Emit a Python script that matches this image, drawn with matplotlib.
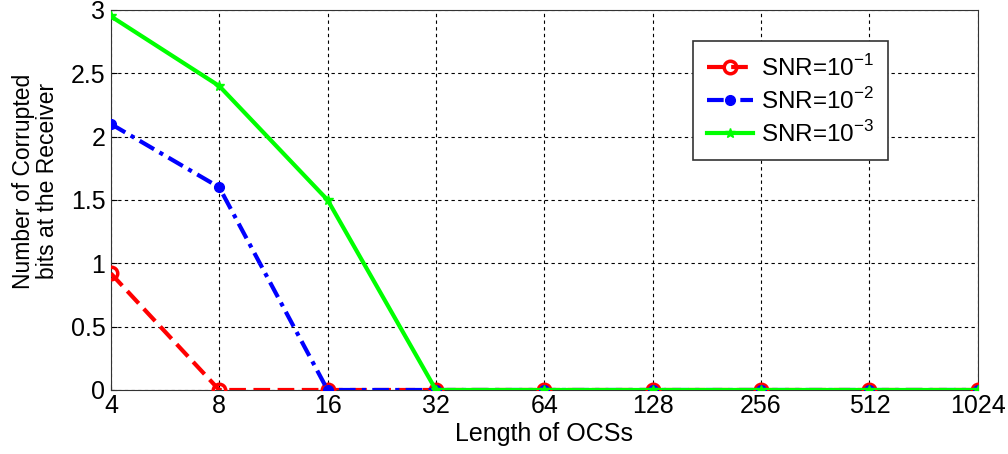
import numpy as np
import matplotlib.pyplot as plt
from matplotlib.ticker import FormatStrFormatter

plt.rcParams['font.family'] = ['Liberation Sans', 'DejaVu Sans']

# OCS lengths and corrupted bit counts per SNR
ocs_len = ['4', '8', '16', '32', '64', '128', '256', '512', '1024']
snr_1 = [0.92, 0, 0, 0, 0, 0, 0, 0, 0]
snr_2 = [2.1, 1.6, 0, 0, 0, 0, 0, 0, 0]
snr_3 = [2.95, 2.4, 1.5, 0, 0, 0, 0, 0, 0]
yticks = [0, 0.5, 1, 1.5, 2, 2.5, 3]

x = np.arange(len(ocs_len))

fig = plt.figure(figsize=(10.08, 4.54), dpi=100)
ax = fig.add_axes([0.110, 0.141, 0.860, 0.837])

ax.plot(x, snr_1, color='red', linestyle=(0, (4, 1.8)), linewidth=3,
        marker='o', markersize=9, markerfacecolor='none', markeredgewidth=2.5,
        label='SNR=10$^{\\mathregular{-1}}$', zorder=3)
ax.plot(x, snr_2, color='blue', linestyle=(0, (4, 1.5, 1, 1.5)), linewidth=3,
        marker='o', markersize=7, label='SNR=10$^{\\mathregular{-2}}$', zorder=4)
ax.plot(x, snr_3, color='#00ff00', linestyle='-', linewidth=3,
        marker='*', markersize=7, label='SNR=10$^{\\mathregular{-3}}$', zorder=5)

ax.set_xlim(0, len(ocs_len) - 1)
ax.set_ylim(0, 3)
ax.set_xticks(x)
ax.set_xticklabels(ocs_len)
ax.set_yticks(yticks)
ax.yaxis.set_major_formatter(FormatStrFormatter('%g'))
ax.tick_params(labelsize=18, direction='in', length=4)
ax.tick_params(axis='x', pad=3)
ax.tick_params(axis='y', pad=4)

ax.grid(True, color='black', linestyle=(0, (3, 3)), linewidth=0.8)
for s in ax.spines.values():
    s.set_color('#333333')

ax.set_xlabel('Length of OCSs', fontsize=18, labelpad=3)
ax.set_ylabel('Number of Corrupted\nbits at the Receiver', fontsize=16.5,
              linespacing=1.05)
ax.yaxis.set_label_coords(-0.060, 0.55)

leg = ax.legend(loc='upper left', bbox_to_anchor=(0.672, 0.918), fontsize=17.5,
                fancybox=False, framealpha=1, edgecolor='#333333',
                handlelength=1.9, borderpad=0.55, labelspacing=0.3,
                handletextpad=0.35, borderaxespad=0)
leg.get_frame().set_linewidth(1.2)

fig.savefig('out.png', dpi=100)
